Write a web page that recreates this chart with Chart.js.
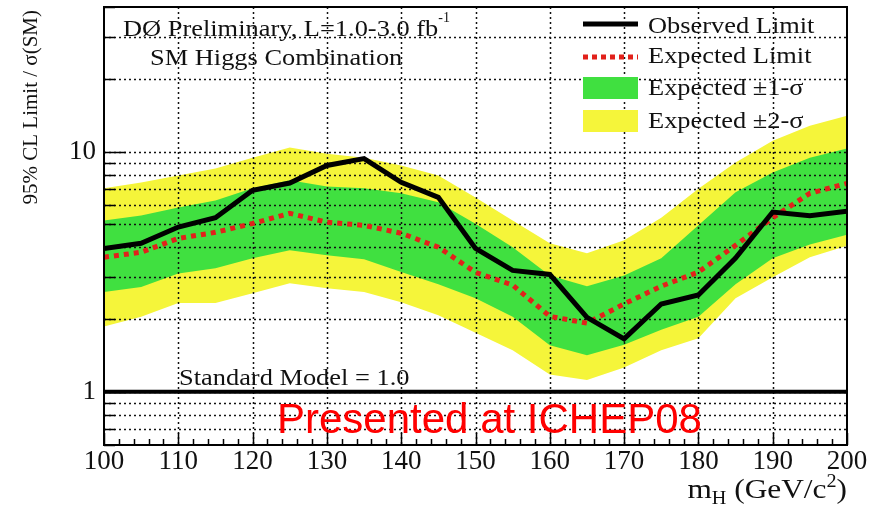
<!DOCTYPE html>
<html>
<head>
<meta charset="utf-8">
<script src="https://cdn.jsdelivr.net/npm/chart.js@4.4.0/dist/chart.umd.min.js"></script>
<style>
html, body { margin: 0; padding: 0; background: #fff; }
</style>
</head>
<body>
<canvas id="limits" width="883" height="506"></canvas>
<script>
// Higgs mass points (GeV/c^2)
const masses = [100, 105, 110, 115, 120, 125, 130, 135, 140, 145, 150, 155, 160, 165, 170, 175, 180, 185, 190, 195, 200];
// 95% CL limit / sigma(SM)
const observed = [3.95, 4.15, 4.85, 5.3, 6.9, 7.4, 8.75, 9.35, 7.45, 6.45, 3.95, 3.2, 3.08, 2.04, 1.66, 2.32, 2.53, 3.6, 5.6, 5.4, 5.65];
const expected = [3.63, 3.81, 4.35, 4.61, 5.02, 5.53, 5.08, 4.93, 4.57, 4.0, 3.14, 2.78, 2.06, 1.93, 2.32, 2.75, 3.15, 4.07, 5.3, 6.7, 7.37];
const band1Up = [5.17, 5.42, 5.85, 6.25, 7.03, 7.6, 7.16, 7.03, 6.7, 6.15, 5.0, 4.0, 3.05, 2.75, 3.05, 3.6, 4.93, 6.77, 8.19, 9.43, 10.3];
const band1Down = [2.6, 2.73, 3.11, 3.27, 3.6, 3.88, 3.7, 3.56, 3.15, 2.8, 2.45, 2.05, 1.56, 1.42, 1.57, 1.81, 2.05, 2.8, 3.6, 4.1, 4.5];
const band2Up = [7.03, 7.43, 7.95, 8.5, 9.43, 10.4, 9.8, 9.43, 8.75, 7.95, 6.44, 5.17, 4.15, 3.77, 4.27, 5.3, 7.0, 9.0, 11.1, 12.8, 14.1];
const band2Down = [1.87, 2.05, 2.34, 2.34, 2.57, 2.83, 2.7, 2.6, 2.36, 2.08, 1.76, 1.49, 1.18, 1.12, 1.26, 1.49, 1.67, 2.45, 3.0, 3.63, 4.05];
// SM reference line
const smMasses = [100, 200];
const smLevel = [1, 1];
// y grid / tick values and which carry labels
const yGrid = [0.6, 0.7, 0.8, 0.9, 1, 2, 3, 4, 5, 6, 7, 8, 9, 10, 20, 30, 40];
const yLabelled = [1, 10];

const GREEN = '#40e040';
const YELLOW = '#f5f53a';
const RED = '#e2211b';
const SERIF = '"Liberation Serif", "Times New Roman", serif';

const pts = (xs, ys) => xs.map((x, i) => ({ x: x, y: ys[i] }));

function serif(ctx, str, x, y, size, sx) {
    ctx.save();
    ctx.translate(x, y);
    ctx.scale(sx, 1);
    ctx.font = size + 'px ' + SERIF;
    ctx.fillText(str, 0, 0);
    const w = ctx.measureText(str).width * sx;
    ctx.restore();
    return w;
}

const decor = {
    id: 'decor',
    beforeDatasetDraw(chart, args) {
        // dotted grid goes over the bands but under the lines
        if (args.index !== 2) return;
        const ctx = chart.ctx, a = chart.chartArea;
        const xs = chart.scales.x, ys = chart.scales.y;
        ctx.save();
        ctx.strokeStyle = '#111';
        ctx.lineWidth = 1.5;
        ctx.setLineDash([2, 3]);
        for (let m = 110; m < 200; m += 10) {
            const px = Math.round(xs.getPixelForValue(m)) + 0.5;
            ctx.beginPath(); ctx.moveTo(px, a.top); ctx.lineTo(px, a.bottom); ctx.stroke();
        }
        yGrid.forEach(v => {
            const py = Math.round(ys.getPixelForValue(v)) + 0.5;
            if (py <= a.top + 1 || py >= a.bottom - 1) return;
            ctx.beginPath(); ctx.moveTo(a.left, py); ctx.lineTo(a.right, py); ctx.stroke();
        });
        ctx.restore();
    },
    afterDraw(chart) {
        const ctx = chart.ctx, a = chart.chartArea;
        const xs = chart.scales.x, ys = chart.scales.y;
        ctx.save();

        // frame and inner ticks
        ctx.strokeStyle = '#000';
        ctx.lineWidth = 2;
        ctx.strokeRect(a.left, a.top, a.right - a.left, a.bottom - a.top);
        ctx.lineWidth = 1.5;
        yGrid.forEach(v => {
            const py = Math.round(ys.getPixelForValue(v)) + 0.5;
            const len = yLabelled.includes(v) ? 22 : 11;
            ctx.beginPath(); ctx.moveTo(a.left, py); ctx.lineTo(a.left + len, py); ctx.stroke();
        });
        for (let m = 100; m <= 200; m += 2) {
            const px = Math.round(xs.getPixelForValue(m)) + 0.5;
            const len = m % 10 === 0 ? 12 : 6;
            ctx.beginPath(); ctx.moveTo(px, a.bottom); ctx.lineTo(px, a.bottom - len); ctx.stroke();
        }

        // annotations
        ctx.fillStyle = '#111';
        ctx.textBaseline = 'alphabetic';
        ctx.textAlign = 'left';
        const w = serif(ctx, 'DØ Preliminary, L=1.0-3.0 fb', 123, 36, 24, 1.1);
        serif(ctx, '-1', 123 + w, 22, 14, 1.0);
        serif(ctx, 'SM Higgs Combination', 150, 65, 24, 1.1);
        serif(ctx, 'Standard Model = 1.0', 179, 385, 24, 1.1);

        // legend
        const lx0 = 583, lx1 = 638, tx = 648;
        ctx.strokeStyle = '#000';
        ctx.lineWidth = 5;
        ctx.beginPath(); ctx.moveTo(lx0, 24); ctx.lineTo(lx1, 24); ctx.stroke();
        ctx.strokeStyle = RED;
        ctx.setLineDash([5, 4]);
        ctx.beginPath(); ctx.moveTo(lx0, 57); ctx.lineTo(lx1, 57); ctx.stroke();
        ctx.setLineDash([]);
        ctx.fillStyle = GREEN;
        ctx.fillRect(lx0, 77, lx1 - lx0, 22);
        ctx.fillStyle = YELLOW;
        ctx.fillRect(lx0, 110, lx1 - lx0, 22);
        ctx.fillStyle = '#111';
        serif(ctx, 'Observed Limit', tx, 33, 24, 1.1);
        serif(ctx, 'Expected Limit', tx, 63, 24, 1.1);
        serif(ctx, 'Expected ±1-σ', tx, 95, 24, 1.1);
        serif(ctx, 'Expected ±2-σ', tx, 128, 24, 1.1);

        // y axis title, aligned to the top end of the axis
        ctx.save();
        ctx.translate(31, 10);
        ctx.rotate(-Math.PI / 2);
        ctx.textAlign = 'right';
        ctx.textBaseline = 'middle';
        ctx.font = '21px ' + SERIF;
        ctx.fillText('95% CL Limit / σ(SM)', 0, 0);
        ctx.restore();

        // x axis title m_H (GeV/c^2), right aligned
        const parts = [
            { t: 'm', s: 28, dy: 0 },
            { t: 'H', s: 18, dy: 6 },
            { t: ' (GeV/c', s: 28, dy: 0 },
            { t: '2', s: 18, dy: -11 },
            { t: ')', s: 28, dy: 0 }
        ];
        const sx = 1.12;
        let total = 0;
        parts.forEach(p => { ctx.font = p.s + 'px ' + SERIF; p.w = ctx.measureText(p.t).width * sx; total += p.w; });
        let x = a.right - total;
        parts.forEach(p => { serif(ctx, p.t, x, 498 + p.dy, p.s, sx); x += p.w; });

        // watermark
        ctx.fillStyle = '#ff0000';
        ctx.font = '42px "Liberation Sans", Arial, sans-serif';
        ctx.fillText('Presented at ICHEP08', 277, 433);
        ctx.restore();
    }
};

const lineBase = { pointRadius: 0, tension: 0, fill: false };
const bandBase = { pointRadius: 0, tension: 0, borderWidth: 0, borderColor: 'transparent' };

new Chart(document.getElementById('limits').getContext('2d'), {
    type: 'line',
    data: {
        datasets: [
            Object.assign({ label: 'Observed Limit', data: pts(masses, observed), borderColor: '#000', borderWidth: 5 }, lineBase),
            Object.assign({ label: 'Expected Limit', data: pts(masses, expected), borderColor: RED, borderWidth: 5, borderDash: [5, 5] }, lineBase),
            Object.assign({ label: 'Standard Model', data: pts(smMasses, smLevel), borderColor: '#000', borderWidth: 4 }, lineBase),
            Object.assign({ label: 'Expected ±1-σ', data: pts(masses, band1Up), backgroundColor: GREEN, fill: '+1' }, bandBase),
            Object.assign({ label: '-1σ', data: pts(masses, band1Down), fill: false }, bandBase),
            Object.assign({ label: 'Expected ±2-σ', data: pts(masses, band2Up), backgroundColor: YELLOW, fill: '+1' }, bandBase),
            Object.assign({ label: '-2σ', data: pts(masses, band2Down), fill: false }, bandBase)
        ]
    },
    options: {
        responsive: false,
        animation: false,
        layout: { padding: { left: 0, right: 36, top: 7, bottom: 0 } },
        plugins: { legend: { display: false }, tooltip: { enabled: false } },
        scales: {
            x: {
                type: 'linear',
                min: 100,
                max: 200,
                grid: { display: false, drawTicks: false },
                border: { display: false },
                ticks: { stepSize: 10, maxRotation: 0, autoSkip: false, padding: 1, color: '#111', font: { family: SERIF, size: 27 } },
                afterFit: s => { s.height = 61; s.paddingLeft = 0; s.paddingRight = 0; }
            },
            y: {
                type: 'logarithmic',
                min: 0.6,
                max: 40,
                grid: { display: false, drawTicks: false },
                border: { display: false },
                afterBuildTicks: s => { s.ticks = yGrid.map(v => ({ value: v })); },
                ticks: {
                    autoSkip: false,
                    padding: 8,
                    color: '#111',
                    font: { family: SERIF, size: 27 },
                    callback: v => yLabelled.includes(v) ? String(v) : ''
                },
                afterFit: s => { s.width = 104; s.paddingTop = 0; s.paddingBottom = 0; }
            }
        }
    },
    plugins: [decor]
});
</script>
</body>
</html>
